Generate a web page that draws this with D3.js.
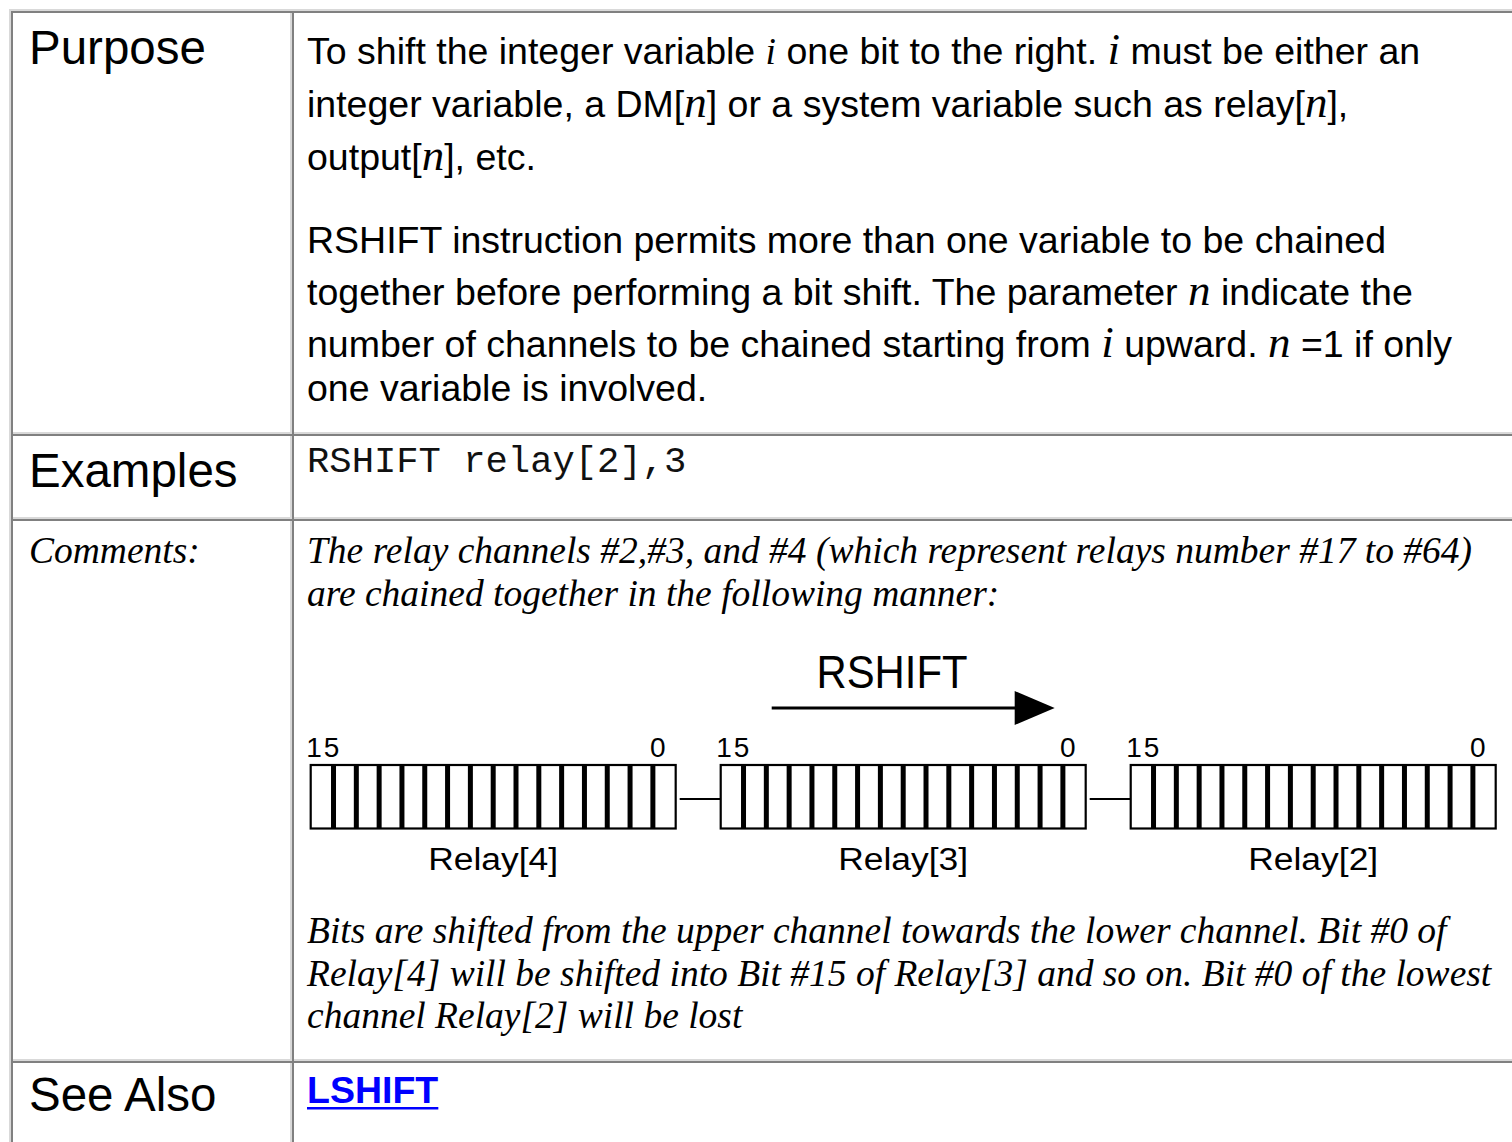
<!DOCTYPE html>
<html><head><meta charset="utf-8">
<script src="https://cdn.jsdelivr.net/npm/d3@7"></script>
<style>
html,body{margin:0;padding:0;background:#fff;overflow:hidden}
svg{display:block}
text{white-space:pre}
</style></head><body>
<script>
// ---------- content / data ----------
const rowLabels = ["Purpose", "Examples", "Comments:", "See Also"];
// segments: [text, kind]  kind: n = normal, s = small italic, m = math italic
const purposePara1 = [
  [["To shift the integer variable ", "n"], ["i", "s"], [" one bit to the right. ", "n"], ["i", "m"], [" must be either an", "n"]],
  [["integer variable, a DM[", "n"], ["n", "m"], ["] or a system variable such as relay[", "n"], ["n", "m"], ["],", "n"]],
  [["output[", "n"], ["n", "m"], ["], etc.", "n"]]
];
const purposePara2 = [
  [["RSHIFT instruction permits more than one variable to be chained", "n"]],
  [["together before performing a bit shift. The parameter ", "n"], ["n", "m"], [" indicate the", "n"]],
  [["number of channels to be chained starting from ", "n"], ["i", "m"], [" upward. ", "n"], ["n", "m"], [" =1 if only", "n"]],
  [["one variable is involved.", "n"]]
];
const exampleCode = ["RSHIFT relay[2],3"];
const commentIntro = [
  "The relay channels #2,#3, and #4 (which represent relays number #17 to #64)",
  "are chained together in the following manner:"
];
const commentOutro = [
  "Bits are shifted from the upper channel towards the lower channel. Bit #0 of",
  "Relay[4] will be shifted into Bit #15 of Relay[3] and so on. Bit #0 of the lowest",
  "channel Relay[2] will be lost"
];
const seeAlsoLinks = ["LSHIFT"];
const registers = ["Relay[4]", "Relay[3]", "Relay[2]"];
const bitIndices = [15, 14, 13, 12, 11, 10, 9, 8, 7, 6, 5, 4, 3, 2, 1, 0];
const bitEndLabels = [15, 0];
const shiftLabel = "RSHIFT";

// ---------- layout ----------
const W = 1512, H = 1142;
const colX = [11, 292, 1560];
const rowY = [11, 434, 519, 1061, 1200];
const DARK = "#808080", LIGHT = "#d9d9d9";
const SANS = "'Liberation Sans', Arial, Helvetica, sans-serif";
const SERIF = "'Liberation Serif', 'Times New Roman', serif";
const MONO = "'Liberation Mono', 'Courier New', monospace";
const bodyX = 307, labelX = 29;
const BODY = 37.5, LABEL = 47.5, MATH = 45;

const svg = d3.select("body").append("svg").attr("width", W).attr("height", H);

// table outer (outset) border – light top/left
svg.append("rect").attr("x", 9).attr("y", 9).attr("width", W).attr("height", 2).attr("fill", LIGHT);
svg.append("rect").attr("x", 9).attr("y", 9).attr("width", 2).attr("height", H).attr("fill", LIGHT);

// cells (inset borders)
const cells = [];
for (let r = 0; r < 4; r++) for (let c = 0; c < 2; c++)
  cells.push({x0: colX[c], x1: colX[c + 1], y0: rowY[r], y1: rowY[r + 1]});
const cg = svg.append("g");
cells.forEach(d => {
  const w = d.x1 - d.x0, h = d.y1 - d.y0;
  cg.append("rect").attr("x", d.x0).attr("y", d.y1 - 2).attr("width", w).attr("height", 2).attr("fill", LIGHT);
  cg.append("rect").attr("x", d.x1 - 2).attr("y", d.y0).attr("width", 2).attr("height", h).attr("fill", LIGHT);
  cg.append("rect").attr("x", d.x0).attr("y", d.y0).attr("width", w).attr("height", 2).attr("fill", DARK);
  cg.append("rect").attr("x", d.x0).attr("y", d.y0).attr("width", 2).attr("height", h).attr("fill", DARK);
});

// row labels
const labelBase = [64, 487, 563, 1111];
svg.selectAll("text.lbl").data(rowLabels).join("text").attr("class", "lbl")
  .attr("x", labelX).attr("y", (d, i) => labelBase[i])
  .attr("font-family", (d, i) => i === 2 ? SERIF : SANS)
  .attr("font-style", (d, i) => i === 2 ? "italic" : "normal")
  .attr("font-size", (d, i) => i === 2 ? BODY : LABEL)
  .attr("fill", "#000").text(d => d);

// rich text lines
function richLines(lines, baselines) {
  lines.forEach((segs, i) => {
    const t = svg.append("text").attr("x", bodyX).attr("y", baselines[i])
      .attr("font-family", SANS).attr("font-size", BODY).attr("fill", "#000");
    segs.forEach(([txt, kind]) => {
      const ts = t.append("tspan").text(txt);
      if (kind === "s") ts.attr("font-family", SERIF).attr("font-style", "italic").attr("font-size", BODY);
      if (kind === "m") ts.attr("font-family", SERIF).attr("font-style", "italic").attr("font-size", MATH);
    });
  });
}
richLines(purposePara1, [64, 117, 170]);
richLines(purposePara2, [253, 305, 357, 401]);

// example code
svg.selectAll("text.code").data(exampleCode).join("text").attr("class", "code")
  .attr("x", bodyX).attr("y", 472).attr("font-family", MONO).attr("font-size", 37.2)
  .attr("fill", "#111").text(d => d);

// comments
function serifLines(lines, y0, lh) {
  svg.append("g").selectAll("text").data(lines).join("text")
    .attr("x", bodyX).attr("y", (d, i) => y0 + i * lh)
    .attr("font-family", SERIF).attr("font-style", "italic").attr("font-size", BODY)
    .attr("fill", "#000").text(d => d);
}
serifLines(commentIntro, 563, 43);
serifLines(commentOutro, 943, 42.5);

// see also link
const link = svg.selectAll("text.link").data(seeAlsoLinks).join("text").attr("class", "link")
  .attr("x", bodyX).attr("y", 1103).attr("font-family", SANS).attr("font-weight", "bold")
  .attr("font-size", BODY).attr("fill", "#0000ff").text(d => d);
link.each(function() {
  const bb = this.getBBox();
  svg.append("rect").attr("x", bb.x).attr("y", 1107).attr("width", bb.width).attr("height", 2.5).attr("fill", "#0000ff");
});

// ---------- register diagram ----------
const regScale = d3.scaleBand().domain(registers).range([310.7, 1495.7]).paddingInner(0.1098).paddingOuter(0);
const bitScale = d3.scaleBand().domain(bitIndices).range([0, regScale.bandwidth()]);
const boxTop = 765, boxBottom = 828.5;
const dg = svg.append("g");

// connectors
registers.slice(0, -1).forEach((r, i) => {
  const x1 = regScale(r) + regScale.bandwidth() + 4;
  const x2 = regScale(registers[i + 1]) + 4;
  dg.append("line").attr("x1", x1).attr("x2", x2).attr("y1", 799).attr("y2", 799)
    .attr("stroke", "#000").attr("stroke-width", 2);
});

const reg = dg.selectAll("g.reg").data(registers).join("g").attr("class", "reg")
  .attr("transform", d => `translate(${regScale(d)},0)`);
reg.append("rect").attr("x", 0).attr("y", boxTop).attr("width", regScale.bandwidth())
  .attr("height", boxBottom - boxTop).attr("fill", "#fff").attr("stroke", "#000").attr("stroke-width", 2.2);
reg.selectAll("rect.bit").data(bitIndices.slice(1)).join("rect").attr("class", "bit")
  .attr("x", d => bitScale(d) - 2.5).attr("y", boxTop).attr("width", 5)
  .attr("height", boxBottom - boxTop).attr("fill", "#000");
const endOffset = {15: 1.6, 0: -5.6};
reg.selectAll("text.end").data(bitEndLabels).join("text").attr("class", "end")
  .attr("x", d => bitScale(d) + bitScale.bandwidth() / 2 + endOffset[d]).attr("y", 757)
  .attr("text-anchor", "middle").attr("font-family", SANS).attr("font-size", 28)
  .attr("letter-spacing", 2).attr("fill", "#000").text(d => d);
reg.append("text").attr("x", regScale.bandwidth() / 2).attr("y", 870)
  .attr("text-anchor", "middle").attr("font-family", SANS).attr("font-size", 31)
  .attr("textLength", 130).attr("lengthAdjust", "spacingAndGlyphs")
  .attr("fill", "#000").text(d => d);

// RSHIFT arrow
const ax0 = regScale(registers[1]) + 51, ax1 = regScale(registers[1]) + regScale.bandwidth() - 31;
dg.append("line").attr("x1", ax0).attr("x2", ax1 - 38).attr("y1", 708).attr("y2", 708)
  .attr("stroke", "#000").attr("stroke-width", 3);
dg.append("path").attr("d", d3.line()([[ax1 - 40, 691], [ax1, 708], [ax1 - 40, 725]]) + "Z").attr("fill", "#000");
dg.append("text").attr("x", 892).attr("y", 688).attr("text-anchor", "middle")
  .attr("font-family", SANS).attr("font-size", 46).attr("textLength", 151)
  .attr("lengthAdjust", "spacingAndGlyphs").attr("fill", "#000").text(shiftLabel);
</script>
</body></html>
